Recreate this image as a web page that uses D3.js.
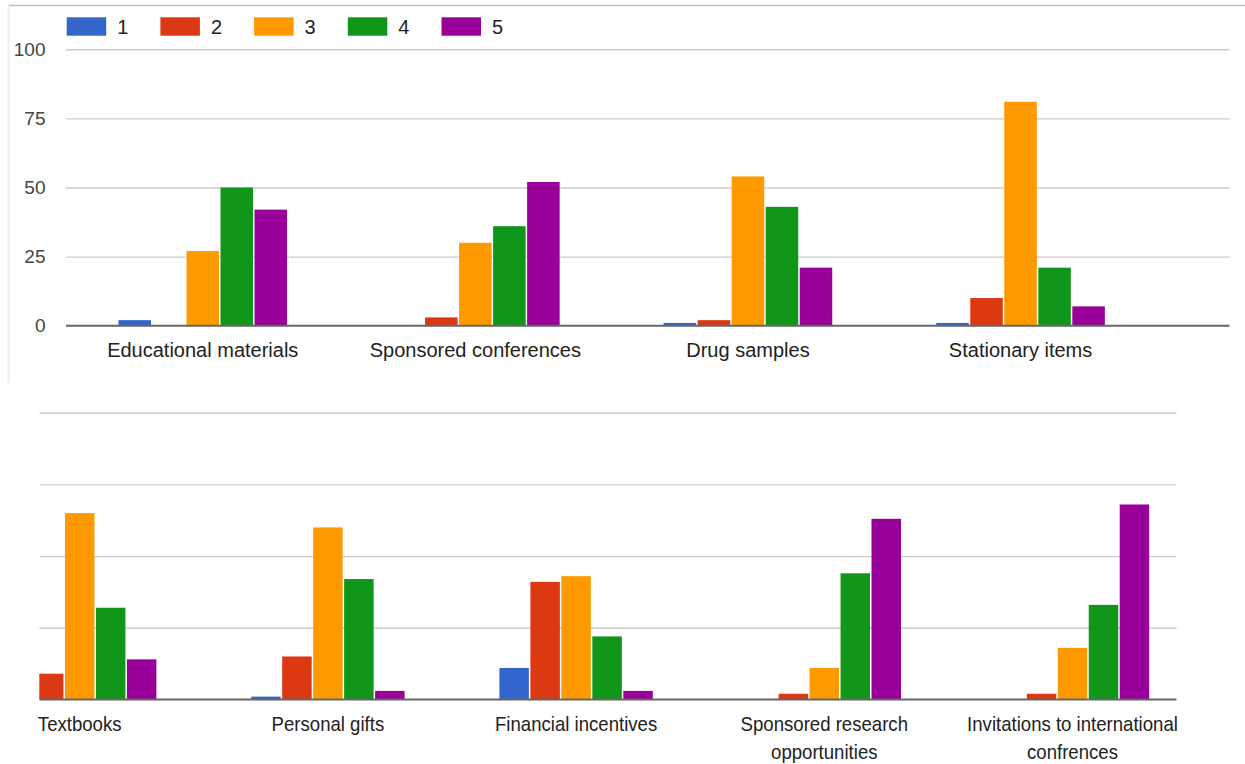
<!DOCTYPE html>
<html>
<head>
<meta charset="utf-8">
<script src="https://cdn.jsdelivr.net/npm/d3@7"></script>
<style>
  body { margin: 0; background: #ffffff; }
  svg { display: block; font-family: "Liberation Sans", Arial, sans-serif; }
</style>
</head>
<body>
<svg id="chart" width="1245" height="764"></svg>
<script>
// Rating scale (1–5) shown in the legend
const ratings = ["1", "2", "3", "4", "5"];
const ratingColors = ["#3366cc", "#dc3912", "#ff9900", "#109618", "#990099"];

// Upper panel: categories and number of responses per rating
const topCategories = ["Educational materials", "Sponsored conferences", "Drug samples", "Stationary items"];
const topRating1 = [2, 0, 1, 1];
const topRating2 = [0, 3, 2, 10];
const topRating3 = [27, 30, 54, 81];
const topRating4 = [50, 36, 43, 21];
const topRating5 = [42, 52, 21, 7];

// Lower panel: categories and number of responses per rating
const bottomCategories = ["Textbooks", "Personal gifts", "Financial incentives",
  "Sponsored research opportunities", "Invitations to international confrences"];
const bottomRating1 = [1, 1, 11, 0, 0];
const bottomRating2 = [9, 15, 41, 2, 2];
const bottomRating3 = [65, 60, 43, 11, 18];
const bottomRating4 = [32, 42, 22, 44, 33];
const bottomRating5 = [14, 3, 3, 63, 68];

const yTicks = [0, 25, 50, 75, 100];

const topSeries = [topRating1, topRating2, topRating3, topRating4, topRating5];
const bottomSeries = [bottomRating1, bottomRating2, bottomRating3, bottomRating4, bottomRating5];

const svg = d3.select("#chart");
const color = d3.scaleOrdinal().domain(ratings).range(ratingColors);

// Frame edges of the upper panel
svg.append("line").attr("x1", 8).attr("x2", 1245).attr("y1", 5.5).attr("y2", 5.5)
  .attr("stroke", "#bdbdbd").attr("stroke-width", 1.5);
svg.append("line").attr("x1", 8.5).attr("x2", 8.5).attr("y1", 5).attr("y2", 383)
  .attr("stroke", "#e2f1f3").attr("stroke-width", 2);

// Legend
const legend = svg.append("g").attr("class", "legend");
const legendItem = legend.selectAll("g").data(ratings).join("g")
  .attr("transform", (d, i) => `translate(${66.7 + i * 93.7},17.3)`);
legendItem.append("rect").attr("width", 39.5).attr("height", 18.4).attr("fill", d => color(d));
legendItem.append("text").attr("x", 50.5).attr("y", 17).attr("font-size", 20)
  .attr("fill", "#222").text(d => d);

function drawPanel(opts) {
  const { categories, series, xRange, yRange, gridX, showYLabels, clip, labelScale } = opts;
  const g = svg.append("g");
  if (clip) {
    const id = "clip" + Math.round(yRange[0]);
    svg.append("clipPath").attr("id", id).append("rect")
      .attr("x", clip[0]).attr("y", clip[1]).attr("width", clip[2] - clip[0]).attr("height", clip[3] - clip[1]);
    g.attr("clip-path", `url(#${id})`);
  }

  const x0 = d3.scaleBand().domain(categories).range(xRange).paddingInner(0.376).paddingOuter(0.188);
  const x1 = d3.scaleBand().domain(ratings).range([0, x0.bandwidth()]);
  const y = d3.scaleLinear().domain([0, 100]).range(yRange);

  // Horizontal gridlines and value labels
  const yAxis = d3.axisLeft(y).tickValues(yTicks.filter(t => t > 0))
    .tickSize(-(gridX[1] - gridX[0])).tickPadding(gridX[0] - 45.5)
    .tickFormat(showYLabels ? d3.format("d") : () => "");
  const yg = g.append("g").attr("transform", `translate(${gridX[0]},0)`).call(yAxis);
  yg.select(".domain").remove();
  yg.selectAll(".tick line").attr("stroke", "#cccccc").attr("stroke-width", 1.4);
  yg.selectAll(".tick text").attr("font-size", 19).attr("fill", "#444")
    .attr("font-family", "Liberation Sans, Arial, sans-serif");
  if (showYLabels) {
    g.append("text").attr("x", 45.5).attr("y", y(0)).attr("dy", "0.35em")
      .attr("text-anchor", "end").attr("font-size", 19).attr("fill", "#444").text(d3.format("d")(0));
  }

  // Grouped bars
  const rows = [];
  series.forEach((vals, s) => vals.forEach((v, i) => {
    if (v > 0) rows.push({ cat: categories[i], rating: ratings[s], value: v });
  }));
  g.append("g").selectAll("rect").data(rows).join("rect")
    .attr("x", d => x0(d.cat) + x1(d.rating) + 0.75)
    .attr("width", x1.bandwidth() - 1.5)
    .attr("y", d => y(d.value))
    .attr("height", d => y(0) - y(d.value))
    .attr("fill", d => color(d.rating));

  // Baseline
  g.append("line").attr("x1", gridX[0]).attr("x2", gridX[1]).attr("y1", y(0)).attr("y2", y(0))
    .attr("stroke", "#666").attr("stroke-width", 2);

  // Category labels, wrapped to the band step
  const xAxis = d3.axisBottom(x0).tickSize(0).tickPadding(17.2);
  const xg = svg.append("g").attr("transform", `translate(0,${y(0)})`).call(xAxis);
  xg.select(".domain").remove();
  xg.selectAll(".tick text").attr("font-size", 20).attr("fill", "#222")
    .attr("font-family", "Liberation Sans, Arial, sans-serif")
    .attr("transform", `scale(${labelScale},1)`)
    .each(function (d) {
      const t = d3.select(this);
      const words = d.split(" ");
      const maxW = x0.step() / labelScale;
      t.text(null);
      let line = [];
      let tspan = t.append("tspan").attr("x", 0);
      let lineNo = 0;
      words.forEach(w => {
        line.push(w);
        tspan.text(line.join(" "));
        if (tspan.node().getComputedTextLength() > maxW && line.length > 1) {
          line.pop();
          tspan.text(line.join(" "));
          line = [w];
          lineNo += 1;
          tspan = t.append("tspan").attr("x", 0).attr("dy", "1.4em").text(w);
        }
      });
    });
}

drawPanel({
  categories: topCategories,
  series: topSeries,
  xRange: [66.45, 1156.85],
  yRange: [325.7, 49.3],
  gridX: [66, 1229.5],
  showYLabels: true,
  clip: null,
  labelScale: 1
});

drawPanel({
  categories: bottomCategories,
  series: bottomSeries,
  xRange: [-44.4, 1196.6],
  yRange: [699.5, 412.7],
  gridX: [39.3, 1176.7],
  showYLabels: false,
  clip: [39.3, 388, 1176.7, 764],
  labelScale: 0.93
});
</script>
</body>
</html>
